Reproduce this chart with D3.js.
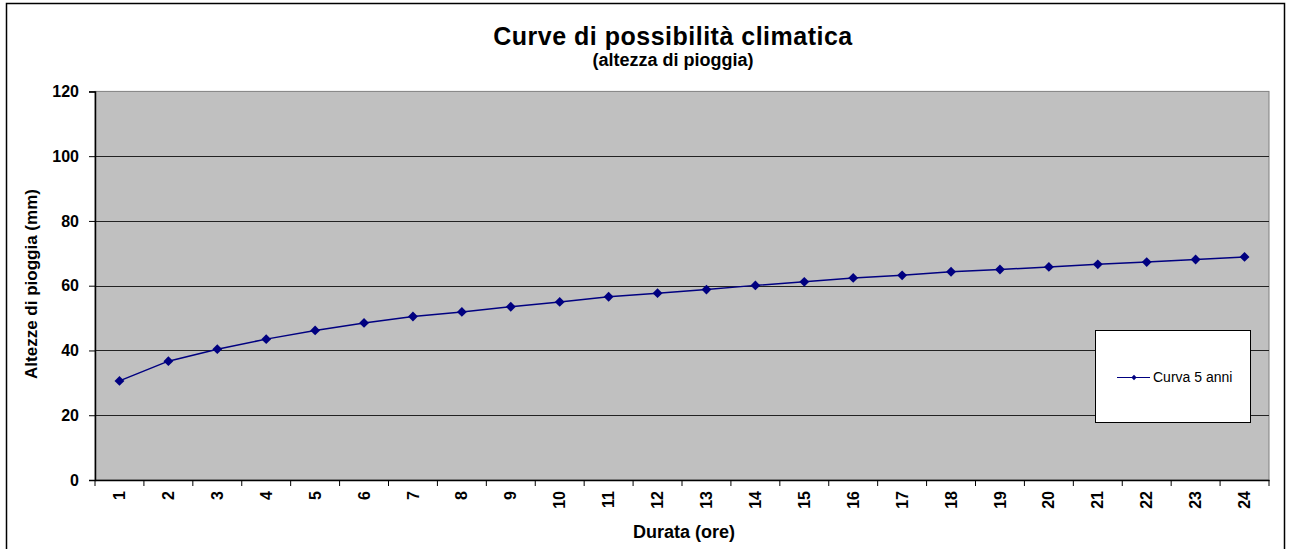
<!DOCTYPE html>
<html><head><meta charset="utf-8">
<script src="https://cdn.jsdelivr.net/npm/d3@7"></script>
<style>
html,body{margin:0;padding:0;background:#fff;}
svg{display:block;font-family:"Liberation Sans",Arial,sans-serif;}
</style></head>
<body>
<svg id="c" width="1289" height="549"></svg>
<script>
const categories = ["1","2","3","4","5","6","7","8","9","10","11","12","13","14","15","16","17","18","19","20","21","22","23","24"];
const values = [30.6,36.7,40.4,43.5,46.2,48.5,50.5,51.9,53.5,55.0,56.6,57.7,58.8,60.1,61.2,62.4,63.2,64.3,65.0,65.8,66.6,67.3,68.1,68.9];
const yTicks = [0,20,40,60,80,100,120];
const seriesName = "Curva 5 anni";
const title = "Curve di possibilità climatica";
const subtitle = "(altezza di pioggia)";
const xTitle = "Durata (ore)";
const yTitle = "Altezze di pioggia (mm)";

const svg = d3.select("#c");
const L = 95, R = 1269, T = 91.4, B = 480;

// outer chart border
svg.append("rect").attr("x",6.5).attr("y",3.5).attr("width",1278).attr("height",600)
  .attr("fill","#fff").attr("stroke","#000").attr("stroke-width",1.5);

const x = d3.scaleBand().domain(categories).range([L,R]).padding(0);
const y = d3.scaleLinear().domain([0,120]).range([B,T]);

// plot background
svg.append("rect").attr("x",L).attr("y",T).attr("width",R-L).attr("height",B-T)
  .attr("fill","#C0C0C0").attr("stroke","#808080").attr("stroke-width",1);

// gridlines
svg.append("g").selectAll("line").data(yTicks.filter(d=>d>0 && d<120)).join("line")
  .attr("x1",L).attr("x2",R).attr("y1",d=>Math.round(y(d))+0.5).attr("y2",d=>Math.round(y(d))+0.5)
  .attr("stroke","#222").attr("stroke-width",1);

// y axis
const yAxis = d3.axisLeft(y).tickValues(yTicks).tickSize(6).tickPadding(10);
const gy = svg.append("g").attr("transform",`translate(${L},0)`).call(yAxis);
gy.select(".domain").attr("stroke","#000").attr("stroke-width",1.5);
gy.selectAll(".tick line").attr("stroke","#000");
gy.selectAll("text").attr("font-size",16).attr("font-weight","bold").attr("fill","#000")
  .attr("font-family","Liberation Sans, Arial, sans-serif");

// x axis
const xAxis = d3.axisBottom(x).tickSize(0).tickPadding(0);
const gx = svg.append("g").attr("transform",`translate(0,${B})`).call(xAxis);
gx.select(".domain").attr("stroke","#000").attr("stroke-width",1.5);
gx.selectAll(".tick text").attr("font-size",16).attr("font-weight","bold").attr("fill","#000")
  .attr("font-family","Liberation Sans, Arial, sans-serif")
  .attr("transform","translate(0,11) rotate(-90)")
  .attr("text-anchor","end").attr("dy","0.35em").attr("y",0).attr("x",0);
// tick marks at band boundaries
const bounds = categories.map(c=>x(c)).concat([R]);
svg.append("g").selectAll("line").data(bounds).join("line")
  .attr("x1",d=>d).attr("x2",d=>d).attr("y1",B).attr("y2",B+6)
  .attr("stroke","#000").attr("stroke-width",1);

// series
const cx = d => x(d) + x.bandwidth()/2;
const data = categories.map((c,i)=>({c, v: values[i]}));
svg.append("path").datum(data)
  .attr("d", d3.line().x(d=>cx(d.c)).y(d=>y(d.v)))
  .attr("fill","none").attr("stroke","#000080").attr("stroke-width",1.5);
const diamond = d3.symbol().type(d3.symbolDiamond2).size(62);
svg.append("g").selectAll("path").data(data).join("path")
  .attr("d", diamond).attr("transform",d=>`translate(${cx(d.c)},${y(d.v)})`)
  .attr("fill","#000080");

// titles
svg.append("text").attr("x",673).attr("y",45).attr("text-anchor","middle")
  .attr("font-size",25).attr("font-weight","bold").attr("letter-spacing","0.5").text(title);
svg.append("text").attr("x",673).attr("y",66).attr("text-anchor","middle")
  .attr("font-size",18).attr("font-weight","bold").text(subtitle);
svg.append("text").attr("x",684).attr("y",538).attr("text-anchor","middle")
  .attr("font-size",18).attr("font-weight","bold").text(xTitle);
svg.append("text").attr("transform","translate(37,284) rotate(-90)").attr("text-anchor","middle")
  .attr("font-size",17).attr("font-weight","bold").text(yTitle);

// legend
const lg = svg.append("g");
lg.append("rect").attr("x",1095.5).attr("y",330.5).attr("width",155).attr("height",92)
  .attr("fill","#fff").attr("stroke","#000").attr("stroke-width",1);
lg.append("line").attr("x1",1117).attr("x2",1150).attr("y1",377.5).attr("y2",377.5)
  .attr("stroke","#000080").attr("stroke-width",1.2);
lg.append("path").attr("d",d3.symbol().type(d3.symbolDiamond2).size(18))
  .attr("transform","translate(1134,377.5)").attr("fill","#000080");
lg.append("text").attr("x",1153).attr("y",382).attr("font-size",14)
  .text(seriesName);
</script>
</body></html>
